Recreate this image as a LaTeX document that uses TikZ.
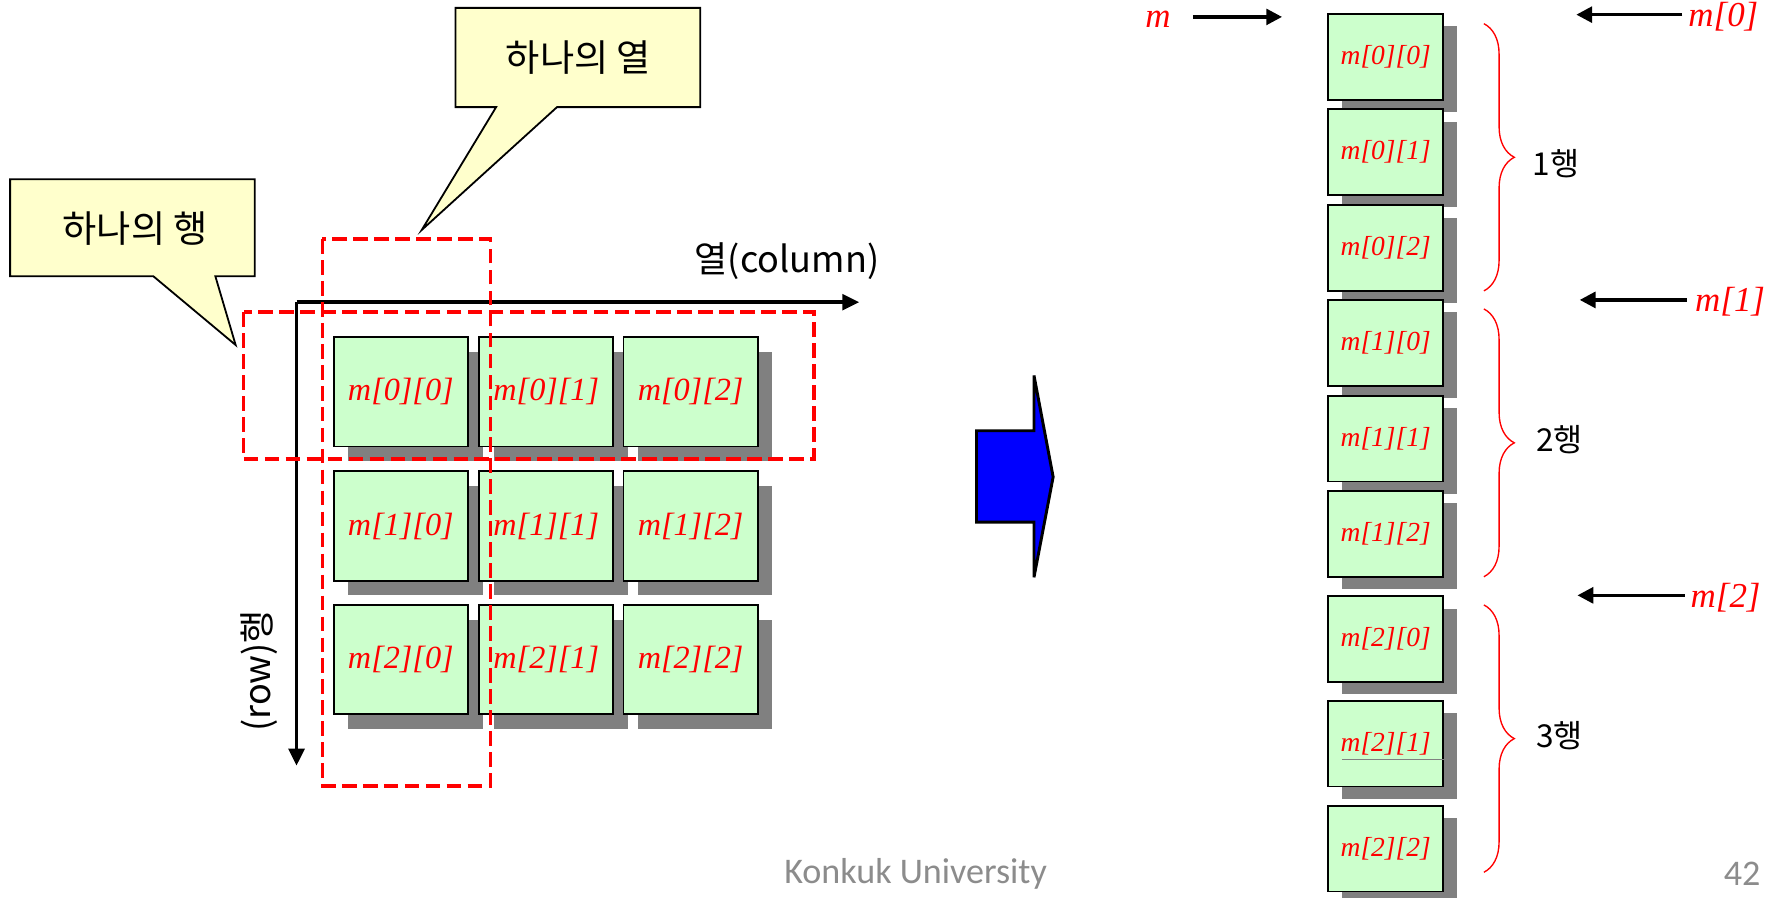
\documentclass[tikz,border=0pt]{standalone}
\usepackage{fontspec}
\setmainfont{Liberation Serif}
\newfontfamily\kr{Noto Sans CJK KR}
\newfontfamily\footfont{Carlito}
\usetikzlibrary{arrows.meta,decorations.pathreplacing,shadows}

\definecolor{boxgreen}{HTML}{CCFFCC}
\definecolor{calloutyellow}{HTML}{FFFFCC}
\definecolor{shadowgray}{HTML}{808080}
\definecolor{footgray}{HTML}{8C8C8C}
\definecolor{arrowblue}{HTML}{0000FF}

\tikzset{
  gridcell/.style={draw=black, line width=0.8pt, fill=boxgreen, minimum width=59.5pt, minimum height=48.5pt,
    inner sep=0pt, text=red, font=\fontsize{14.3}{16}\selectfont\itshape,
    general shadow={fill=shadowgray, shadow xshift=6.5pt, shadow yshift=-6.5pt}},
  memcell/.style={draw=black, line width=0.8pt, fill=boxgreen, minimum width=51pt, minimum height=38pt,
    inner sep=0pt, text=red, font=\fontsize{12.2}{14}\selectfont\itshape,
    general shadow={fill=shadowgray, shadow xshift=6pt, shadow yshift=-5.5pt}},
  callout/.style={draw=black, line width=0.8pt, fill=calloutyellow, line join=miter},
  calltext/.style={font=\kr\fontsize{16.5}{19}\selectfont, inner sep=0pt},
  selrect/.style={draw=red, line width=1.7pt, dash pattern=on 6.5pt off 2.8pt},
  axis/.style={line width=1.5pt, -{Triangle[length=7.5pt,width=7pt]}},
  ptr/.style={line width=1.5pt, -{Triangle[length=7pt,width=7pt]}},
  mlabel/.style={text=red, font=\fontsize{15.5}{18}\selectfont\itshape, inner sep=0pt},
  rowbrace/.style={draw=red, line width=0.6pt, decorate, decoration={brace, amplitude=13.5pt}},
  bracelabel/.style={font=\kr\fontsize{14}{16}\selectfont, inner sep=0pt},
  footer/.style={font=\footfont\fontsize{16}{19}\selectfont, text=footgray, inner sep=0pt},
  bigarrow/.style={draw=black, line width=1.3pt, fill=arrowblue, line join=miter},
}

\begin{document}
\begin{tikzpicture}[x=0.5pt,y=-0.5pt]
\fill[white] (0,0) rectangle (1568,796);
\useasboundingbox (0,0) rectangle (1568,796);

% ---------- callouts ----------
\filldraw[callout] (404,7) -- (621,7) -- (621,95) -- (494,95) -- (374,204) -- (440,95) -- (404,95) -- cycle;
\node[calltext] (colcallout) at (513,51) {하나의 열};
\filldraw[callout] (9,159) -- (226,159) -- (226,245) -- (191,245) -- (209,306) -- (136,245) -- (9,245) -- cycle;
\node[calltext] (rowcallout) at (120,203) {하나의 행};

% ---------- axes ----------
\coordinate (origin) at (263,268);
\coordinate (xend) at (762,268);
\coordinate (yend) at (263,679);
\draw[axis] (origin) -- (xend);
\draw[axis] (origin) -- (yend);
\node[font=\kr\fontsize{16}{19}\selectfont, inner sep=0pt] (colaxis) at (698,232) {열(column)};
\node[font=\kr\fontsize{16}{19}\selectfont, inner sep=0pt, rotate=90] (rowaxis) at (230,595) {(row)행};

% ---------- 2D grid ----------
\node[gridcell] (g00) at (355.5,347.5) {m[0][0]};
\node[gridcell] (g01) at (484.5,347.5) {m[0][1]};
\node[gridcell] (g02) at (612.5,347.5) {m[0][2]};
\node[gridcell] (g10) at (355.5,466.5) {m[1][0]};
\node[gridcell] (g11) at (484.5,466.5) {m[1][1]};
\node[gridcell] (g12) at (612.5,466.5) {m[1][2]};
\node[gridcell] (g20) at (355.5,585) {m[2][0]};
\node[gridcell] (g21) at (484.5,585) {m[2][1]};
\node[gridcell] (g22) at (612.5,585) {m[2][2]};

% ---------- selection rectangles ----------
\draw[selrect] (216,277) rectangle (722,407);
\draw[selrect] (286,212) rectangle (435,697);

% ---------- big arrow ----------
\filldraw[bigarrow] (866,382) -- (917,382) -- (917,333) -- (934,423) -- (917,512) -- (917,463) -- (866,463) -- cycle;

% ---------- memory column ----------
\node[memcell] (r00) at (1229,50.5) {m[0][0]};
\node[memcell] (r01) at (1229,135) {m[0][1]};
\node[memcell] (r02) at (1229,220) {m[0][2]};
\node[memcell] (r10) at (1229,304) {m[1][0]};
\node[memcell] (r11) at (1229,389) {m[1][1]};
\node[memcell] (r12) at (1229,473.5) {m[1][2]};
\node[memcell] (r20) at (1229,566.7) {m[2][0]};
\node[memcell] (r21) at (1229,659.5) {m[2][1]};
\node[memcell] (r22) at (1229,752.7) {m[2][2]};
\draw[shadowgray, line width=0.3pt] (1190,673) -- (1292,673);

% ---------- pointers ----------
\node[mlabel] (mlab) at (1027,17) {m};
\coordinate (mtip) at (1137,15);
\draw[ptr] (1058,15) -- (mtip);

\node[mlabel, anchor=west] (m0lab) at (1497,15) {m[0]};
\coordinate (m0tip) at (1398,13);
\draw[ptr] ([xshift=-2.5pt]m0lab.west |- m0tip) -- (m0tip);

\node[mlabel, anchor=west] (m1lab) at (1503,268) {m[1]};
\coordinate (m1tip) at (1401,266);
\draw[ptr] ([xshift=-3.5pt]m1lab.west |- m1tip) -- (m1tip);

\node[mlabel, anchor=west] (m2lab) at (1499,530) {m[2]};
\coordinate (m2tip) at (1399,528);
\draw[ptr] ([xshift=-2.5pt]m2lab.west |- m2tip) -- (m2tip);

% ---------- braces ----------
\draw[rowbrace] (1316,21) -- (1316,258);
\draw[rowbrace] (1316,274) -- (1316,511.5);
\draw[rowbrace] (1316,536.5) -- (1316,773.6);
\node[bracelabel] (b1) at (1380,145) {1행};
\node[bracelabel] (b2) at (1383,390) {2행};
\node[bracelabel] (b3) at (1383,652) {3행};

% ---------- footer ----------
\node[footer] (univ) at (812,775) {Konkuk University};
\node[footer] (page) at (1545,775) {42};
\end{tikzpicture}
\end{document}
